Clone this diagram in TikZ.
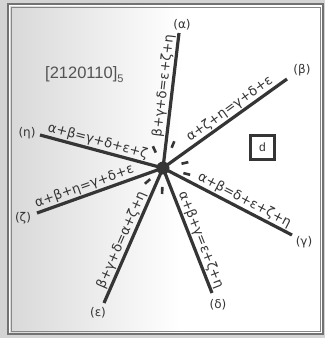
\documentclass[tikz,border=0pt]{standalone}
\usepackage{fontspec}
\newfontfamily\sansf{Liberation Sans}
\newfontfamily\grk{DejaVu Sans}
\definecolor{inkc}{HTML}{353535}
\definecolor{paper}{HTML}{D4D4D4}
\begin{document}
\begin{tikzpicture}[x=1pt,y=-1pt,
  ray/.style={line width=3.2pt, draw=inkc},
  lab/.style={sloped, above, inner sep=1pt, font=\grk\fontsize{13.2}{15}\selectfont, text=inkc},
  endlab/.style={font=\grk\fontsize{12}{14}\selectfont, text=inkc, inner sep=0pt},
  tickmark/.style={line width=2.6pt, draw=inkc}
]
\useasboundingbox (0,0) rectangle (325,338);
\fill[paper] (0,0) rectangle (325,338);
\fill[white] (8,4) rectangle (323,334);
\shade[left color=gray!30, right color=white] (10,6) rectangle (180,332);
\draw[line width=1.6pt, inkc!70] (8,4) rectangle (323,334);
\draw[line width=0.6pt, inkc!60] (11,7) rectangle (320,331);

\coordinate (c) at (163,168);
\coordinate (ea) at (179,33);
\coordinate (eb) at (287,79);
\coordinate (eg) at (292,235);
\coordinate (ed) at (212,293);
\coordinate (ee) at (104,303);
\coordinate (ez) at (37,213);
\coordinate (eh) at (40,135);

\draw[ray] (c) -- (ea) node[lab, pos=0.6] (la) {β+γ+δ=ε+ζ+η};
\draw[ray] (c) -- (eb) node[lab, pos=0.58] (lb) {α+ζ+η=γ+δ+ε};
\draw[ray] (c) -- (eg) node[lab, pos=0.6] (lg) {α+β=δ+ε+ζ+η};
\draw[ray] (c) -- (ed) node[lab, pos=0.6] (ld) {α+β+γ=ε+ζ+η};
\draw[ray] (c) -- (ee) node[lab, pos=0.56] (le) {β+γ+δ=α+ζ+η};
\draw[ray] (c) -- (ez) node[lab, pos=0.6] (lz) {α+β+η=γ+δ+ε};
\draw[ray] (c) -- (eh) node[lab, pos=0.55] (lh) {α+β=γ+δ+ε+ζ};

\fill[inkc] (c) circle (6.5pt);

\draw[tickmark] ([shift={(115:17pt)}]c) -- ([shift={(115:24pt)}]c);
\draw[tickmark] ([shift={(67:22pt)}]c) -- ([shift={(67:29pt)}]c);
\draw[tickmark] ([shift={(13:19pt)}]c) -- ([shift={(13:26pt)}]c);
\draw[tickmark] ([shift={(-14:21pt)}]c) -- ([shift={(-14:28pt)}]c);
\draw[tickmark] ([shift={(-92:19pt)}]c) -- ([shift={(-92:26pt)}]c);
\draw[tickmark] ([shift={(-139:17pt)}]c) -- ([shift={(-139:24pt)}]c);

\node[endlab] (na) at (182,25) {(α)};
\node[endlab] (nb) at (302,70) {(β)};
\node[endlab] (ng) at (304,242) {(γ)};
\node[endlab] (nd) at (218,305) {(δ)};
\node[endlab] (ne) at (98,313) {(ε)};
\node[endlab] (nz) at (23,218) {(ζ)};
\node[endlab] (nh) at (27,133) {(η)};

\node[anchor=base west, inner sep=0pt, text=inkc!85, font=\sansf\fontsize{16.5}{18}\selectfont] (code) at (45,78) {[2120110]\raisebox{-4pt}{\fontsize{11}{12}\selectfont 5}};

\node[draw=inkc, line width=2.6pt, minimum size=24pt, inner sep=0pt, text=inkc, font=\sansf\fontsize{12}{14}\selectfont] (dbox) at (262.5,147.5) {d};
\end{tikzpicture}
\end{document}
